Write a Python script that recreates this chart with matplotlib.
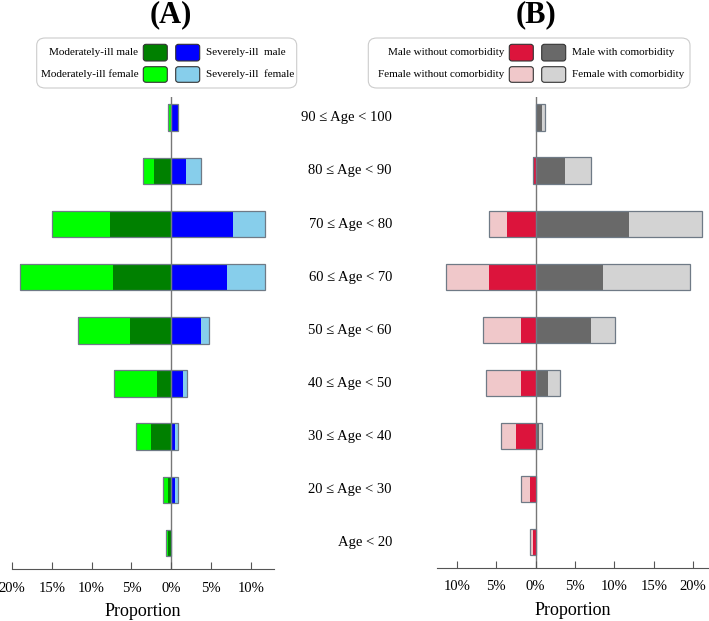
import matplotlib.pyplot as plt
from matplotlib.patches import FancyBboxPatch
import matplotlib.transforms as mtransforms
import numpy as np

plt.rcParams['font.family'] = 'serif'
plt.rcParams['font.serif'] = ['Liberation Serif', 'DejaVu Serif']

# age groups, bottom to top
age_labels = ['Age < 20', '20 ≤ Age < 30', '30 ≤ Age < 40', '40 ≤ Age < 50',
              '50 ≤ Age < 60', '60 ≤ Age < 70', '70 ≤ Age < 80', '80 ≤ Age < 90',
              '90 ≤ Age < 100']

# panel A (%), left side = moderately ill, right side = severely ill
mod_male = [0.42, 0.46, 2.54, 1.83, 5.16, 7.3, 7.7, 2.15, 0.0]
mod_female = [0.29, 0.62, 1.83, 5.42, 6.54, 11.75, 7.3, 1.45, 0.37]
sev_male = [0.0, 0.46, 0.46, 1.5, 3.7, 7.05, 7.75, 1.84, 0.8]
sev_female = [0.0, 0.34, 0.34, 0.42, 1.05, 4.75, 4.05, 1.87, 0.05]

# panel B (%), left side = without comorbidity, right side = with comorbidity
male_wo = [0.38, 0.72, 2.54, 1.86, 1.86, 5.91, 3.68, 0.38, 0.0]
female_wo = [0.38, 1.14, 1.9, 4.4, 4.78, 5.51, 2.23, 0.0, 0.0]
male_w = [0.0, 0.0, 0.47, 1.52, 7.07, 8.59, 11.9, 3.77, 0.81]
female_w = [0.0, 0.0, 0.34, 1.53, 2.96, 11.0, 9.2, 3.3, 0.33]

ticks_A = [-20, -15, -10, -5, 0, 5, 10]
ticks_B = [-10, -5, 0, 5, 10, 15, 20]

c_A = ['#008000', '#00ff00', '#0000ff', '#87ceeb']
c_B = ['#dc143c', '#f0c8ca', '#696969', '#d3d3d3']
edge = '#6f7a86'

W, H = 709, 621
fig = plt.figure(figsize=(W / 100, H / 100), dpi=100)

def px_axes(x0, x1, y0, y1):
    return fig.add_axes([x0 / W, 1 - y1 / H, (x1 - x0) / W, (y1 - y0) / H])

axA = px_axes(12, 274, 97, 569)
axB = px_axes(437, 709, 97, 568)

y = np.arange(len(age_labels))
bh = 0.5

def seg(ax, width, left, col):
    width = np.asarray(width); left = np.asarray(left)
    m = np.abs(width) > 0
    ax.barh(y[m], width[m], left=left[m], height=bh, color=col, lw=0)

def pyramid(ax, lm, lf, rm, rf, cols):
    lm = np.array(lm); lf = np.array(lf); rm = np.array(rm); rf = np.array(rf)
    zero = np.zeros_like(lm)
    seg(ax, -lm, zero, cols[0])
    seg(ax, -lf, -lm, cols[1])
    seg(ax, rm, zero, cols[2])
    seg(ax, rf, rm, cols[3])
    # outline around each side's stack
    for tot in (-(lm + lf), rm + rf):
        m = np.abs(tot) > 0
        ax.barh(y[m], tot[m], height=bh, fill=False, edgecolor=edge, lw=0.9)
    ax.axvline(0, color='#777777', lw=1, zorder=0.5)
    for s in ['top', 'right', 'left']:
        ax.spines[s].set_visible(False)
    ax.spines['bottom'].set_color('#555555')
    ax.set_yticks([])
    ax.set_ylim(-0.49, 8.39)
    ax.tick_params(axis='x', direction='in', length=5, color='#555555',
                   labelsize=10.5, pad=9)
    ax.set_xlabel('Proportion', fontsize=13, labelpad=6, family='Liberation Serif')

pyramid(axA, mod_male, mod_female, sev_male, sev_female, c_A)
axA.set_xlim(-20, 12.9)
axA.set_xticks(ticks_A)
axA.set_xticklabels([f'{abs(t)}%' for t in ticks_A], family='Liberation Serif')

pyramid(axB, male_wo, female_wo, male_w, female_w, c_B)
axB.set_xlim(-12.5, 22.0)
axB.set_xticks(ticks_B)
axB.set_xticklabels([f'{abs(t)}%' for t in ticks_B], family='Liberation Serif')

# age labels between panels
tr = mtransforms.blended_transform_factory(fig.transFigure, axA.transData)
for yi, lab in zip(y, age_labels):
    fig.text(392 / W, yi, lab, transform=tr, ha='right', va='center', fontsize=10.5)

# panel titles centred on zero
for ax, t in [(axA, '(A)'), (axB, '(B)')]:
    trt = mtransforms.blended_transform_factory(ax.transData, fig.transFigure)
    ax.text(0, 1 - 15 / H, t, transform=trt, ha='center', va='center',
            fontsize=22, fontweight='bold')

# legends drawn by hand: left column text-patch, right column patch-text
def legend_box(x0, x1, p1, p2, labels, cols):
    fig.patches.append(FancyBboxPatch((x0 / W, 1 - 88 / H), (x1 - x0) / W, 50 / H,
                                      boxstyle='round,pad=0,rounding_size=0.012',
                                      transform=fig.transFigure, fc='white',
                                      ec='#cccccc', lw=0.8))
    rows = [(44.3, 61), (66.7, 82.3)]
    for r, (ya, yb) in enumerate(rows):
        for c, px in enumerate([p1, p2]):
            col = cols[r + 2 * c]
            fig.patches.append(FancyBboxPatch((px / W, 1 - yb / H), 24 / W, (yb - ya) / H,
                                              boxstyle='round,pad=0,rounding_size=0.004',
                                              transform=fig.transFigure, fc=col,
                                              ec='#333333', lw=0.8))
        yc = 1 - (ya + yb) / 2 / H
        fig.text((p1 - 5) / W, yc, labels[r], ha='right', va='center', fontsize=8)
        fig.text((p2 + 30) / W, yc, labels[r + 2], ha='left', va='center', fontsize=8)

legend_box(36.7, 296.7, 143.3, 175.7,
           ['Moderately-ill male', 'Moderately-ill female',
            'Severely-ill  male', 'Severely-ill  female'], c_A)
legend_box(368.3, 690, 509.3, 541.7,
           ['Male without comorbidity', 'Female without comorbidity',
            'Male with comorbidity', 'Female with comorbidity'], c_B)

fig.savefig('out.png', dpi=100)
